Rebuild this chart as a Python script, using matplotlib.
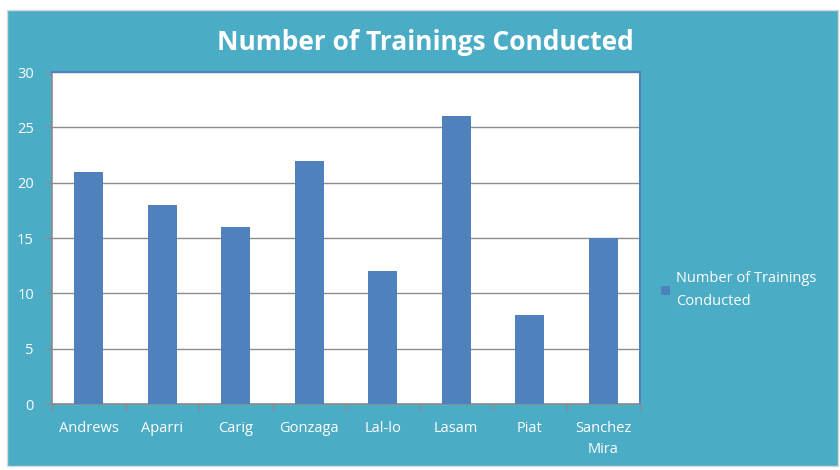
import matplotlib

matplotlib.use("Agg")
import matplotlib.pyplot as plt
from matplotlib.patches import Rectangle
import numpy as np

# data
towns = ["Andrews", "Aparri", "Carig", "Gonzaga", "Lal-lo", "Lasam", "Piat", "Sanchez\nMira"]
trainings = [21, 18, 16, 22, 12, 26, 8, 15]
y_ticks = [0, 5, 10, 15, 20, 25, 30]

TEAL = "#4BACC6"
BAR = "#4F81BD"
FONT = ["Open Sans", "DejaVu Sans"]

plt.rcParams["font.family"] = FONT

fig = plt.figure(figsize=(8.4, 4.7), dpi=100)
fig.patch.set_facecolor("white")
# teal chart frame with thin light border
fig.add_artist(Rectangle((7 / 840, 1 - 466 / 470), 831 / 840, 456 / 470,
                         transform=fig.transFigure, facecolor=TEAL,
                         edgecolor="#d9d9d9", linewidth=1.0, zorder=0))

ax = fig.add_axes([52 / 840, 1 - 404 / 470, 588 / 840, 332 / 470])
ax.set_facecolor("white")
x = np.arange(len(towns))
bars = ax.bar(x, trainings, width=0.4, color=BAR, zorder=3,
              label="Number of Trainings\nConducted")

ax.set_xlim(-0.5, len(towns) - 0.5)
ax.set_ylim(0, 30)
ax.set_yticks(y_ticks)
ax.yaxis.grid(True, color="#8c8c8c", linewidth=1.0, zorder=1)

ax.set_xticks(np.arange(len(towns) + 1) - 0.5)
ax.set_xticklabels([])
ax.set_xticks(x, minor=True)
ax.set_xticklabels(towns, minor=True, color="white", fontsize=10.5, linespacing=1.6)
ax.tick_params(axis="x", which="minor", length=0, pad=12)
ax.tick_params(axis="x", which="major", length=5, color="#8c8c8c", width=1)
ax.tick_params(axis="y", length=5, color="#8c8c8c", labelcolor="white", labelsize=10.5, pad=8)

for side in ["left", "bottom"]:
    ax.spines[side].set_color("#8c8c8c")
    ax.spines[side].set_linewidth(1.2)
for side in ["top", "right"]:
    ax.spines[side].set_color(BAR)
    ax.spines[side].set_linewidth(1.5)

fig.text(0.506, 1 - 43 / 470, "Number of Trainings Conducted", ha="center", va="center",
         color="white", fontsize=19, fontweight="bold")

leg = fig.legend(handles=[bars], loc="center left", bbox_to_anchor=(648 / 840, 1 - 290 / 470),
                 frameon=False, fontsize=10.5, handlelength=0.6, handleheight=0.6,
                 handletextpad=0.4, labelspacing=0.2)
for t in leg.get_texts():
    t.set_color("white")
    t.set_linespacing(1.8)

fig.savefig("out.png", dpi=100, facecolor=fig.get_facecolor())
